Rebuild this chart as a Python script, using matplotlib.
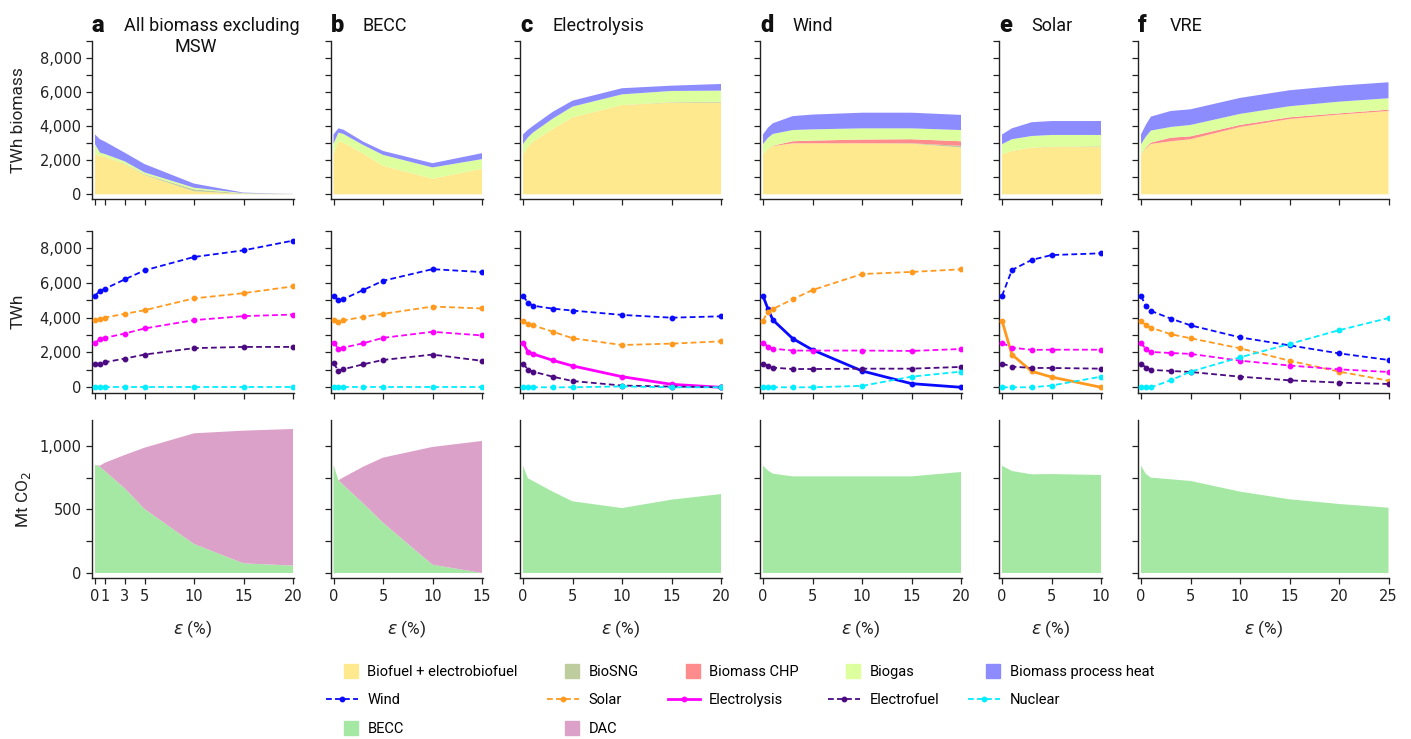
import matplotlib.pyplot as plt
from matplotlib.patches import Patch, Rectangle
from matplotlib.lines import Line2D
from matplotlib.legend_handler import HandlerPatch
from matplotlib.ticker import MultipleLocator, FuncFormatter, FixedLocator

plt.rcParams['font.family'] = ['Roboto', 'DejaVu Sans']

# epsilon (%) values sampled in each scenario a-f
eps = [
    [0, 0.5, 1, 3, 5, 10, 15, 20],
    [0, 0.5, 1, 3, 5, 10, 15],
    [0, 0.5, 1, 3, 5, 10, 15, 20],
    [0, 0.5, 1, 3, 5, 10, 15, 20],
    [0, 1, 3, 5, 10],
    [0, 0.5, 1, 3, 5, 10, 15, 20, 25],
]
titles = ['All biomass excluding\nMSW', 'BECC', 'Electrolysis', 'Wind', 'Solar', 'VRE']
letters = ['a', 'b', 'c', 'd', 'e', 'f']
xticks = [[0, 1, 3, 5, 10, 15, 20], [0, 5, 10, 15], [0, 5, 10, 15, 20],
          [0, 5, 10, 15, 20], [0, 5, 10], [0, 5, 10, 15, 20, 25]]

# biomass use (TWh)
biofuel = [
    [2350, 2270, 2200, 1780, 1140, 180, 20, 0],
    [2350, 3140, 3040, 2400, 1680, 920, 1500],
    [2350, 2800, 3100, 3850, 4530, 5250, 5390, 5390],
    [2350, 2650, 2840, 3000, 3000, 3000, 2980, 2750],
    [2350, 2550, 2750, 2780, 2780],
    [2350, 2700, 2960, 3120, 3240, 3960, 4430, 4690, 4900],
]
biosng = [
    [0, 0, 0, 20, 40, 110, 30, 10],
    [0, 0, 0, 0, 0, 0, 0],
    [0, 0, 0, 0, 0, 0, 30, 50],
    [0, 0, 0, 0, 0, 0, 20, 100],
    [0, 0, 0, 20, 40],
    [0, 0, 0, 0, 0, 0, 0, 0, 0],
]
biomass_chp = [
    [0, 0, 0, 0, 0, 0, 0, 0],
    [0, 0, 0, 0, 0, 0, 0],
    [0, 0, 0, 0, 0, 0, 0, 0],
    [0, 10, 20, 120, 160, 220, 240, 270],
    [0, 0, 0, 0, 0],
    [0, 50, 80, 210, 170, 120, 100, 70, 80],
]
biogas = [
    [600, 180, 170, 140, 110, 100, 20, 5],
    [620, 490, 510, 500, 640, 660, 570],
    [610, 550, 530, 600, 630, 630, 660, 660],
    [600, 660, 690, 660, 660, 660, 640, 660],
    [600, 690, 680, 690, 670],
    [600, 650, 710, 630, 670, 650, 650, 690, 670],
]
process_heat = [
    [570, 790, 730, 510, 490, 240, 30, 5],
    [550, 250, 250, 200, 230, 250, 350],
    [560, 450, 390, 400, 350, 360, 310, 390],
    [570, 600, 630, 820, 870, 920, 920, 890],
    [570, 640, 810, 820, 820],
    [570, 700, 820, 940, 920, 940, 940, 940, 940],
]

# electricity / fuel production (TWh)
wind = [
    [5260, 5550, 5660, 6200, 6720, 7490, 7870, 8430],
    [5260, 4990, 5070, 5590, 6120, 6790, 6620],
    [5250, 4870, 4690, 4520, 4410, 4160, 4000, 4080],
    [5250, 4500, 3870, 2800, 2150, 940, 210, 0],
    [5250, 6740, 7320, 7600, 7700],
    [5250, 4670, 4390, 3950, 3560, 2870, 2410, 1950, 1570],
]
solar = [
    [3840, 3930, 4010, 4220, 4430, 5110, 5410, 5800],
    [3840, 3740, 3840, 4050, 4220, 4640, 4530],
    [3830, 3620, 3560, 3200, 2820, 2430, 2510, 2640],
    [3830, 4350, 4500, 5060, 5590, 6510, 6630, 6780],
    [3830, 1880, 920, 590, 0],
    [3830, 3560, 3430, 3050, 2820, 2240, 1530, 900, 380],
]
electrolysis = [
    [2550, 2780, 2840, 3090, 3380, 3860, 4090, 4180],
    [2570, 2210, 2280, 2530, 2840, 3190, 2980],
    [2570, 2030, 1920, 1550, 1230, 610, 170, 0],
    [2570, 2340, 2220, 2110, 2110, 2110, 2090, 2200],
    [2550, 2280, 2150, 2160, 2160],
    [2570, 2180, 2030, 1970, 1920, 1530, 1250, 1030, 880],
]
electrofuel = [
    [1360, 1360, 1440, 1650, 1880, 2250, 2320, 2320],
    [1380, 960, 1040, 1320, 1570, 1880, 1520],
    [1360, 1020, 900, 610, 360, 100, 40, 0],
    [1360, 1230, 1130, 1050, 1050, 1070, 1070, 1170],
    [1360, 1190, 1110, 1110, 1070],
    [1360, 1130, 1000, 940, 880, 610, 400, 270, 190],
]
nuclear = [
    [0, 0, 0, 0, 0, 0, 0, 0],
    [0, 0, 0, 0, 0, 0, 0],
    [0, 0, 0, 0, 0, 50, 0, 0],
    [0, 0, 0, 0, 0, 80, 610, 900],
    [0, 0, 0, 100, 610],
    [0, 0, 0, 400, 900, 1720, 2490, 3280, 3980],
]
solid_series = [None, None, 'Electrolysis', 'Wind', 'Solar', None]

# carbon removal (Mt CO2)
becc = [
    [848, 835, 801, 665, 503, 228, 76, 58],
    [848, 728, 691, 547, 395, 65, 0],
    [843, 743, 723, 639, 563, 510, 576, 620],
    [843, 805, 780, 759, 759, 759, 759, 793],
    [843, 801, 775, 777, 770],
    [843, 777, 749, 736, 723, 639, 579, 542, 513],
]
dac = [
    [0, 8, 65, 262, 481, 869, 1042, 1073],
    [0, 0, 60, 288, 511, 925, 1037],
    [0, 0, 0, 0, 0, 0, 0, 0],
    [0, 0, 0, 0, 0, 0, 0, 0],
    [0, 0, 0, 0, 0],
    [0, 0, 0, 0, 0, 0, 0, 0, 0],
]

biomass_colors = ['#ffe98f', '#bfcc9e', '#ff8c8c', '#ddff9e', '#8c8cff']
biomass_labels = ['Biofuel + electrobiofuel', 'BioSNG', 'Biomass CHP', 'Biogas',
                  'Biomass process heat']
line_names = ['Wind', 'Solar', 'Electrolysis', 'Electrofuel', 'Nuclear']
line_colors = ['#0a0aff', '#ff9a1f', '#ff00ff', '#4b0a82', '#00eeff']
becc_color = '#a4e8a4'
dac_color = '#dca1c9'
dash = (0, (3.2, 1.8))

W, H = 1411, 739
fig = plt.figure(figsize=(W / 100, H / 100), dpi=100)


def px_axes(left, top, right, bottom):
    return fig.add_axes([left / W, 1 - bottom / H, (right - left) / W, (bottom - top) / H])


zero_px = [95, 333.5, 523, 763, 1002, 1141]
unit_px = 9.9
rows = [(41.3, 199.4, (-300, 9000)), (230.7, 392.5, (-300, 9000)), (420.2, 578.1, (-40, 1200))]
thousands = FuncFormatter(lambda v, p: f'{v:,.0f}')

for i in range(6):
    x = eps[i]
    xmax = xticks[i][-1]
    left = zero_px[i] - 0.3 * unit_px
    right = zero_px[i] + (xmax + 0.1) * unit_px
    axes = [px_axes(left, top, right, bottom) for top, bottom, _ in rows]

    # biomass stack
    ax = axes[0]
    ax.stackplot(x, biofuel[i], biosng[i], biomass_chp[i], biogas[i], process_heat[i],
                 colors=biomass_colors, linewidth=0)

    # generation lines
    ax = axes[1]
    series = [wind[i], solar[i], electrolysis[i], electrofuel[i], nuclear[i]]
    for name, vals, col in zip(line_names, series, line_colors):
        if name == solid_series[i]:
            ax.plot(x, vals, '-', color=col, lw=2.0, marker='o', ms=3.2, zorder=3)
        else:
            ax.plot(x, vals, linestyle=dash, color=col, lw=1.3, marker='o', ms=3.2, zorder=3)

    # CO2 removal stack
    ax = axes[2]
    ax.stackplot(x, becc[i], dac[i], colors=[becc_color, dac_color], linewidth=0)
    ax.set_xlabel(r'$\varepsilon$ (%)', fontsize=12.5, color='#222')
    ax.xaxis.set_label_coords(0.5, -0.255)

    for r, ax in enumerate(axes):
        ax.set_xlim(-0.3, xmax + 0.1)
        ax.set_ylim(*rows[r][2])
        ax.xaxis.set_major_locator(FixedLocator(xticks[i]))
        for side in ['top', 'right']:
            ax.spines[side].set_visible(False)
        for side in ['left', 'bottom']:
            ax.spines[side].set_color('#222')
            ax.spines[side].set_linewidth(1.0)
        if r < 2:
            ax.yaxis.set_major_locator(MultipleLocator(2000))
            ax.yaxis.set_minor_locator(MultipleLocator(1000))
        else:
            ax.yaxis.set_major_locator(MultipleLocator(500))
            ax.yaxis.set_minor_locator(MultipleLocator(250))
        ax.yaxis.set_major_formatter(thousands)
        ax.tick_params(which='both', direction='out', length=4.5, width=0.9,
                       colors='#222', labelsize=10.5, labelfontfamily='DejaVu Sans',
                       pad=3)
        ax.tick_params(axis='x', labelbottom=(r == 2))
        ax.tick_params(axis='y', labelleft=(i == 0))

    if i == 0:
        axes[0].set_ylabel('TWh biomass', fontsize=12.5, color='#222')
        axes[1].set_ylabel('TWh', fontsize=12.5, color='#222')
        axes[2].set_ylabel('Mt CO$_2$', fontsize=12.5, color='#222')
        w = right - left
        axes[0].yaxis.set_label_coords((26 - left) / w, 0.5)
        axes[1].yaxis.set_label_coords((26 - left) / w, 0.5)
        axes[2].yaxis.set_label_coords((33 - left) / w, 0.5)

    # panel letter and scenario title (second line centred under the first words)
    fig.text((zero_px[i] - 3) / W, 1 - 26 / H, letters[i], fontsize=17,
             fontweight='heavy', va='center', ha='left', color='#111')
    lines = titles[i].split('\n')
    fig.text((zero_px[i] + 29) / W, 1 - 26 / H, lines[0], fontsize=13,
             va='center', ha='left', color='#111')
    if len(lines) > 1:
        fig.text((zero_px[i] + 101) / W, 1 - 47 / H, lines[1], fontsize=13,
                 va='center', ha='center', color='#111')


def square_patch(legend, orig_handle, xdescent, ydescent, width, height, fontsize):
    return Rectangle((-xdescent + width - height, -ydescent), height, height)


def line_handle(name):
    k = line_names.index(name)
    if name == 'Electrolysis':
        return Line2D([], [], color=line_colors[k], lw=2.0, marker='o', ms=3.2)
    return Line2D([], [], color=line_colors[k], linestyle=dash, lw=1.3, marker='o', ms=3.2)


blank = Line2D([], [], alpha=0)
patches = [Patch(color=c) for c in biomass_colors]
handles = [patches[0], line_handle('Wind'), Patch(color=becc_color),
           patches[1], line_handle('Solar'), Patch(color=dac_color),
           patches[2], line_handle('Electrolysis'), blank,
           patches[3], line_handle('Electrofuel'), blank,
           patches[4], line_handle('Nuclear'), blank]
labels = [biomass_labels[0], 'Wind', 'BECC',
          biomass_labels[1], 'Solar', 'DAC',
          biomass_labels[2], 'Electrolysis', '',
          biomass_labels[3], 'Electrofuel', '',
          biomass_labels[4], 'Nuclear', '']

fig.legend(handles, labels, ncol=5, loc='center', bbox_to_anchor=(740 / W, 1 - 700 / H),
           frameon=False, fontsize=10.5, handlelength=2.2, handleheight=1.1,
           handletextpad=0.65, columnspacing=2.0, labelspacing=0.95,
           handler_map={Patch: HandlerPatch(patch_func=square_patch)})

fig.savefig('out.png', dpi=100)
